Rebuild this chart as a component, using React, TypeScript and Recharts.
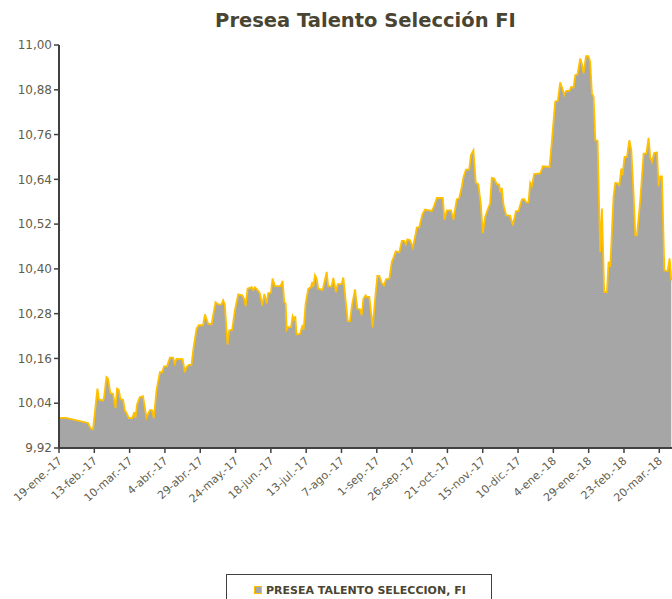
import { AreaChart, Area, XAxis, YAxis } from "recharts";

// days since 19-ene.-17
const dayIndex = [
  0, 5, 20.5, 22.5, 24.1, 27.2, 28.3, 31.2, 31.9, 33.6, 34.7, 36.4, 38.3, 40, 41.1, 42.3, 43.5, 45.4, 46.6, 47.8,
  49.4, 52, 53.2, 54.1, 55.3, 57.2, 59.5, 61.9, 63.1, 64.5, 65.9, 67.1, 69, 71.4, 73, 74.4, 76.5, 78.5, 80.8, 82,
  83.2, 87.5, 89.1, 90.3, 91.9, 93.8, 95.3, 97.4, 99, 102, 103.3, 105.6, 108, 110.8, 112.7, 115.1, 116.2, 117.4,
  119.3, 120.5, 122.6, 124.5, 126.9, 129.7, 131.1, 132.1, 133.5, 136.4, 137.5, 138.7, 140.6, 142.2, 143.9, 145.4,
  147, 148.1, 150, 151.2, 152.9, 156.9, 158.3, 159.5, 160.5, 161.2, 162.3, 164.2, 165.4, 166.3, 167.3, 168.2,
  170.6, 172.2, 173.2, 174.6, 176.5, 178.2, 179.3, 180, 181.2, 182.4, 183.6, 186.7, 189.5, 190.6, 193, 194.2,
  196.1, 197.3, 200.1, 201.3, 203.2, 204.4, 206, 207.4, 209.6, 211.2, 213.1, 214.3, 215.5, 217.1, 217.9, 219.7,
  222.1, 223.7, 225.4, 226.8, 228.5, 230.1, 231.5, 233.9, 235.6, 236.7, 238.4, 241, 242.7, 244.3, 245.5, 246.6,
  248.5, 250.5, 252.1, 253.3, 255.1, 257.3, 259.2, 262.2, 263.9, 265.1, 267.5, 271.7, 272.9, 274.6, 277.6, 279.2,
  281.6, 283.3, 285.2, 286.3, 288.1, 290.4, 291.6, 293.4, 295.1, 296.9, 298.6, 300.1, 301.7, 303.3, 305.2, 306.4,
  308.1, 310, 311.6, 312.3, 313.5, 314.7, 316.6, 319.4, 321.3, 323.5, 325.3, 327.7, 329.3, 330.8, 332.4, 333.6,
  334.8, 336.4, 340.7, 342.6, 347.3, 349, 351.3, 353.2, 354.8, 356, 357.7, 359.1, 361.4, 362.7, 364.3, 365.5,
  367.1, 369, 370.2, 371.4, 373.1, 374.9, 376.1, 377.3, 378.5, 379.7, 381.3, 383.2, 384.4, 386, 387.9, 389.1,
  390.3, 392.6, 393.8, 395.7, 396.7, 398.1, 399, 400.4, 402.1, 403.8, 405.2, 406.8, 408, 409.2, 411.5, 413.9,
  415.8, 417.4, 418.6, 419.8, 421.4, 423.4, 424.5, 425.7, 426.9, 428.6, 430.9, 432.3, 433.5,
];

const navValues = [
  10.001, 10.001, 9.987, 9.972, 9.97, 10.079, 10.05, 10.047, 10.056, 10.11, 10.106, 10.067, 10.065, 10.027, 10.079,
  10.076, 10.052, 10.049, 10.021, 10.014, 10.0, 10.0, 10.016, 10.001, 10.037, 10.056, 10.059, 10.001, 10.012,
  10.022, 10.021, 10.0, 10.074, 10.123, 10.123, 10.139, 10.139, 10.162, 10.162, 10.146, 10.159, 10.158, 10.123,
  10.137, 10.143, 10.143, 10.19, 10.24, 10.249, 10.249, 10.278, 10.253, 10.251, 10.311, 10.305, 10.305, 10.316,
  10.305, 10.197, 10.235, 10.237, 10.289, 10.332, 10.329, 10.32, 10.3, 10.347, 10.351, 10.343, 10.351, 10.343,
  10.335, 10.302, 10.333, 10.307, 10.335, 10.336, 10.374, 10.354, 10.354, 10.368, 10.311, 10.307, 10.237, 10.244,
  10.244, 10.273, 10.264, 10.273, 10.225, 10.226, 10.246, 10.237, 10.307, 10.347, 10.35, 10.365, 10.351, 10.383,
  10.374, 10.347, 10.344, 10.392, 10.353, 10.353, 10.376, 10.338, 10.359, 10.359, 10.377, 10.307, 10.26, 10.26,
  10.302, 10.345, 10.293, 10.292, 10.276, 10.32, 10.329, 10.325, 10.325, 10.243, 10.316, 10.381, 10.381, 10.362,
  10.356, 10.372, 10.374, 10.419, 10.429, 10.447, 10.445, 10.475, 10.475, 10.466, 10.479, 10.477, 10.457, 10.486,
  10.511, 10.512, 10.547, 10.559, 10.557, 10.555, 10.564, 10.59, 10.59, 10.532, 10.557, 10.557, 10.532, 10.586,
  10.589, 10.62, 10.645, 10.666, 10.666, 10.705, 10.718, 10.631, 10.627, 10.575, 10.496, 10.539, 10.557, 10.575,
  10.644, 10.642, 10.627, 10.626, 10.605, 10.617, 10.571, 10.544, 10.542, 10.517, 10.555, 10.555, 10.586, 10.587,
  10.578, 10.578, 10.631, 10.622, 10.654, 10.656, 10.675, 10.673, 10.745, 10.848, 10.851, 10.9, 10.888, 10.866,
  10.877, 10.877, 10.888, 10.886, 10.919, 10.921, 10.964, 10.949, 10.924, 10.97, 10.97, 10.955, 10.87, 10.861,
  10.745, 10.743, 10.445, 10.562, 10.338, 10.338, 10.419, 10.405, 10.593, 10.63, 10.629, 10.624, 10.669, 10.651,
  10.7, 10.7, 10.745, 10.718, 10.602, 10.49, 10.49, 10.584, 10.709, 10.709, 10.751, 10.7, 10.687, 10.711, 10.712,
  10.622, 10.648, 10.648, 10.396, 10.394, 10.428, 10.369,
];

const tickDays = [0, 25, 50, 75, 100, 125, 150, 175, 200, 225, 250, 275, 300, 325, 350, 375, 400, 425];
const tickLabels = [
  "19-ene.-17", "13-feb.-17", "10-mar.-17", "4-abr.-17", "29-abr.-17", "24-may.-17", "18-jun.-17", "13-jul.-17",
  "7-ago.-17", "1-sep.-17", "26-sep.-17", "21-oct.-17", "15-nov.-17", "10-dic.-17", "4-ene.-18", "29-ene.-18",
  "23-feb.-18", "20-mar.-18",
];

const yTicks = [9.92, 10.04, 10.16, 10.28, 10.4, 10.52, 10.64, 10.76, 10.88, 11.0];

const data = dayIndex.map((d, i) => ({ day: d, value: navValues[i] }));

const FONT = "'DejaVu Sans', sans-serif";
const TEXT = "#5f5d4c";

function DateTick({ x, y, payload }: any) {
  const i = tickDays.indexOf(payload.value);
  return (
    <g transform={`translate(${x + 1},${y + 4}) rotate(-42)`}>
      <text x={0} y={0} dy="0.35em" textAnchor="end" fontSize={11} fontFamily={FONT} fill={TEXT}>
        {tickLabels[i]}
      </text>
    </g>
  );
}

export default function App() {
  return (
    <div style={{ position: "absolute", left: 0, top: 0, width: 672, height: 599, background: "#fff", overflow: "hidden" }}>
      <div
        style={{
          position: "absolute",
          left: 59,
          width: 613,
          top: 9,
          textAlign: "center",
          fontFamily: FONT,
          fontWeight: "bold",
          fontSize: 19.5,
          color: "#4a4532",
        }}
      >
        Presea Talento Selección FI
      </div>
      <AreaChart width={672} height={599} data={data} margin={{ top: 45, right: 0, bottom: 0, left: 0 }}>
        <XAxis
          dataKey="day"
          type="number"
          domain={[0, 434]}
          ticks={tickDays}
          interval={0}
          height={151}
          tick={<DateTick />}
          tickSize={5}
          axisLine={{ stroke: "#404040", strokeWidth: 2 }}
          tickLine={{ stroke: "#404040", strokeWidth: 1.5 }}
          allowDataOverflow
        />
        <YAxis
          type="number"
          domain={[9.92, 11.0]}
          ticks={yTicks}
          interval={0}
          width={59}
          tickSize={5}
          tickFormatter={(v: number) => v.toFixed(2).replace(".", ",")}
          tick={{ fontSize: 12, fontFamily: FONT, fill: TEXT }}
          axisLine={{ stroke: "#404040", strokeWidth: 2 }}
          tickLine={{ stroke: "#404040", strokeWidth: 1.5 }}
          allowDataOverflow
        />
        <Area
          type="linear"
          dataKey="value"
          stroke="#FFC000"
          strokeWidth={1.8}
          fill="#A6A6A6"
          fillOpacity={1}
          baseValue={9.92}
          isAnimationActive={false}
        />
      </AreaChart>
      <div
        style={{
          position: "absolute",
          left: 226,
          top: 574,
          width: 266,
          height: 40,
          border: "1px solid #404040",
          boxSizing: "border-box",
          display: "flex",
          alignItems: "flex-start",
          paddingLeft: 27,
          paddingTop: 9,
          fontFamily: FONT,
          fontWeight: "bold",
          fontSize: 11,
          color: "#4a4532",
        }}
      >
        <span
          style={{
            display: "inline-block",
            width: 8,
            height: 8,
            background: "#A6A6A6",
            border: "1.5px solid #FFC000",
            boxSizing: "border-box",
            marginTop: 2,
            marginRight: 4,
          }}
        />
        <span>PRESEA TALENTO SELECCION, FI</span>
      </div>
    </div>
  );
}
